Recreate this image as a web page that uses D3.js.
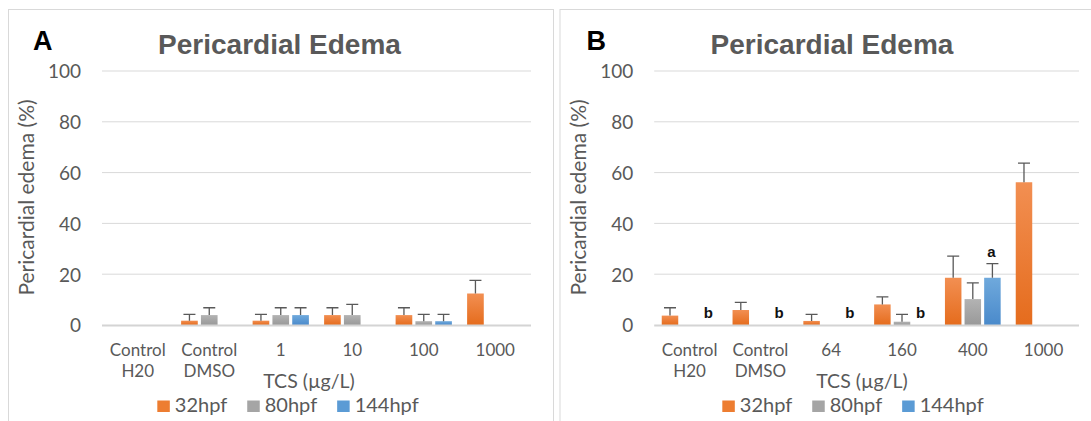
<!DOCTYPE html>
<html>
<head>
<meta charset="utf-8">
<script src="https://cdn.jsdelivr.net/npm/d3@7"></script>
<style>
  body { margin: 0; background: #fff; }
  svg { display: block; }
  .tick-label { font-family: Lato, "Open Sans", sans-serif; fill: #595959; }
</style>
</head>
<body>
<div id="chart"></div>
<script>
// categories (x axis) for both panels
const categoriesA = ["Control\nH20", "Control\nDMSO", "1", "10", "100", "1000"];
const categoriesB = ["Control\nH20", "Control\nDMSO", "64", "160", "400", "1000"];
const seriesNames = ["32hpf", "80hpf", "144hpf"];
const yTicks = [0, 20, 40, 60, 80, 100];

// panel A values (% pericardial edema), null = no bar
const a32 = [null, 1.7, 1.7, 3.9, 3.9, 12.4];
const a80 = [null, 3.9, 3.9, 3.9, 1.5, null];
const a144 = [null, null, 3.9, null, 1.5, null];
const a32Err = [null, 2.5, 2.5, 2.9, 2.9, 5.2];
const a80Err = [null, 2.9, 2.9, 4.2, 2.7, null];
const a144Err = [null, null, 2.9, null, 2.7, null];

// panel B values
const b32 = [3.7, 5.9, 1.6, 8.1, 18.6, 56.2];
const b80 = [null, null, null, 1.3, 10.2, null];
const b144 = [null, null, null, null, 18.6, null];
const b32Err = [3.1, 3.0, 2.6, 3.0, 8.5, 7.5];
const b80Err = [null, null, null, 2.9, 6.4, null];
const b144Err = [null, null, null, null, 5.6, null];
const bLetters = ["b", "b", "b", "b", "a", ""];

const colors = ["#ed7d31", "#a5a5a5", "#5b9bd5"];
const colorsLight = ["#f28f52", "#b3b3b3", "#6fa9dc"];
const colorsDark = ["#e56c1d", "#999999", "#4a8acb"];

var svg = d3.select("#chart")
            .append("svg")
            .attr("width", 1091)
            .attr("height", 421);

svg.append("rect").attr("width", 1091).attr("height", 421).attr("fill", "#fff");

var defs = svg.append("defs");
colors.forEach((c, i) => {
    var grad = defs.append("linearGradient")
        .attr("id", "grad" + i)
        .attr("x1", 0).attr("y1", 0).attr("x2", 0).attr("y2", 1);
    grad.append("stop").attr("offset", "0%").attr("stop-color", colorsLight[i]);
    grad.append("stop").attr("offset", "100%").attr("stop-color", colorsDark[i]);
});

function drawPanel(p) {
    var g = svg.append("g");

    // chart border
    g.append("rect")
     .attr("x", p.border[0]).attr("y", 9.5)
     .attr("width", p.border[1] - p.border[0]).attr("height", 430)
     .attr("fill", "none")
     .attr("stroke", "#d9d9d9")
     .attr("stroke-width", 1);

    var x = d3.scaleBand()
              .domain(p.categories)
              .range(p.xRange);

    var y = d3.scaleLinear()
              .domain([0, 100])
              .range([325, 71]);

    // gridlines
    g.selectAll(".grid")
     .data(yTicks.filter(d => d > 0))
     .enter()
     .append("line")
     .attr("x1", p.xRange[0]).attr("x2", p.xRange[1])
     .attr("y1", d => y(d)).attr("y2", d => y(d))
     .attr("stroke", "#d9d9d9")
     .attr("stroke-width", 1);

    // y axis via d3 axis, then restyle
    var yAxis = g.append("g")
        .attr("transform", "translate(" + (p.xRange[0] - 21) + ",0)")
        .call(d3.axisLeft(y).tickValues(yTicks).tickSize(0).tickPadding(0));
    yAxis.select(".domain").remove();
    yAxis.selectAll("text")
        .attr("class", "tick-label")
        .style("font-size", "19px")
        .attr("dy", "0.36em");

    var step = x.bandwidth() * 0.277;
    var barW = x.bandwidth() * 0.233;

    // bars
    p.series.forEach((vals, si) => {
        var data = vals.map((v, i) => ({cat: p.categories[i], v: v, e: p.errors[si][i]}))
                       .filter(d => d.v !== null);
        var cx = d => x(d.cat) + x.bandwidth() / 2 + (si - 1) * step;

        g.selectAll(".bar" + si)
         .data(data)
         .enter()
         .append("rect")
         .attr("x", d => cx(d) - barW / 2)
         .attr("y", d => y(d.v))
         .attr("width", barW)
         .attr("height", d => y(0) - y(d.v))
         .attr("fill", "url(#grad" + si + ")");

        var errs = data.filter(d => d.e !== null);
        g.selectAll(".err" + si)
         .data(errs)
         .enter()
         .append("path")
         .attr("d", d => "M" + cx(d) + "," + y(d.v) + "V" + y(d.v + d.e) +
                         "M" + (cx(d) - 6) + "," + y(d.v + d.e) + "H" + (cx(d) + 6))
         .attr("fill", "none")
         .attr("stroke", "#595959")
         .attr("stroke-width", 1.3);
    });

    // x axis baseline
    g.append("line")
     .attr("x1", p.xRange[0]).attr("x2", p.xRange[1])
     .attr("y1", y(0) + 0.5).attr("y2", y(0) + 0.5)
     .attr("stroke", "#d4d4d4")
     .attr("stroke-width", 2);

    // significance letters above 144hpf slot
    if (p.letters) {
        g.selectAll(".letter")
         .data(p.letters.map((l, i) => ({cat: p.categories[i], l: l, i: i})).filter(d => d.l))
         .enter()
         .append("text")
         .attr("x", d => x(d.cat) + x.bandwidth() / 2 + step - 1)
         .attr("y", d => {
             var v = p.series[2][d.i] || 0, e = p.errors[2][d.i] || 0;
             return y(v + e) - 7;
         })
         .attr("text-anchor", "middle")
         .style("font-family", "'Liberation Sans', Arial, sans-serif")
         .style("font-weight", "bold")
         .style("font-size", "15px")
         .attr("fill", "#111")
         .text(d => d.l);
    }

    // category labels
    var labels = g.selectAll(".cat")
        .data(p.categories)
        .enter()
        .append("text")
        .attr("class", "tick-label")
        .attr("text-anchor", "middle")
        .style("font-size", "17px")
        .attr("x", d => x(d) + x.bandwidth() / 2)
        .attr("y", 355.5);
    labels.each(function(d) {
        var lines = d.split("\n");
        var t = d3.select(this);
        lines.forEach((ln, k) => {
            t.append("tspan")
             .attr("x", t.attr("x"))
             .attr("dy", k === 0 ? 0 : 21.5)
             .text(ln);
        });
    });

    // titles
    g.append("text")
     .attr("x", p.titleX).attr("y", 54)
     .attr("text-anchor", "middle")
     .style("font-family", "'Liberation Sans', Arial, sans-serif")
     .style("font-weight", "bold")
     .style("font-size", "28px")
     .attr("fill", "#595959")
     .text("Pericardial Edema");

    g.append("text")
     .attr("x", p.letterX).attr("y", 49.5)
     .style("font-family", "'Liberation Sans', Arial, sans-serif")
     .style("font-weight", "bold")
     .style("font-size", "27px")
     .attr("fill", "#000")
     .text(p.panel);

    g.append("text")
     .attr("class", "tick-label")
     .attr("text-anchor", "middle")
     .attr("transform", "translate(" + p.yTitleX + ",197.5) rotate(-90)")
     .attr("dy", "0.35em")
     .style("font-size", "21px")
     .text("Pericardial edema (%)");

    g.append("text")
     .attr("class", "tick-label")
     .attr("text-anchor", "middle")
     .attr("x", p.xTitleX).attr("y", 388)
     .style("font-size", "19.5px")
     .text("TCS (µg/L)");

    // legend
    var legend = g.append("g");
    var pos = 0;
    seriesNames.forEach((name, i) => {
        var item = legend.append("g").attr("transform", "translate(" + pos + ",0)");
        item.append("rect")
            .attr("x", 0).attr("y", 400.5)
            .attr("width", 12.5).attr("height", 11.5)
            .attr("fill", colors[i]);
        var t = item.append("text")
            .attr("class", "tick-label")
            .attr("x", 17.5).attr("y", 412)
            .style("font-size", "20px")
            .text(name);
        pos += 17.5 + t.node().getComputedTextLength() + 20;
    });
    var legendW = pos - 20;
    legend.attr("transform", "translate(" + (p.legendX - legendW / 2) + ",0)");
}

drawPanel({
    panel: "A",
    border: [8.5, 553.5],
    categories: categoriesA,
    xRange: [102, 531],
    series: [a32, a80, a144],
    errors: [a32Err, a80Err, a144Err],
    titleX: 279.5,
    letterX: 33,
    yTitleX: 27,
    xTitleX: 309,
    legendX: 288
});

drawPanel({
    panel: "B",
    border: [560, 1100],
    categories: categoriesB,
    xRange: [654.2, 1079],
    series: [b32, b80, b144],
    errors: [b32Err, b80Err, b144Err],
    letters: bLetters,
    titleX: 832,
    letterX: 586.5,
    yTitleX: 578.5,
    xTitleX: 862,
    legendX: 853
});
</script>
</body>
</html>
